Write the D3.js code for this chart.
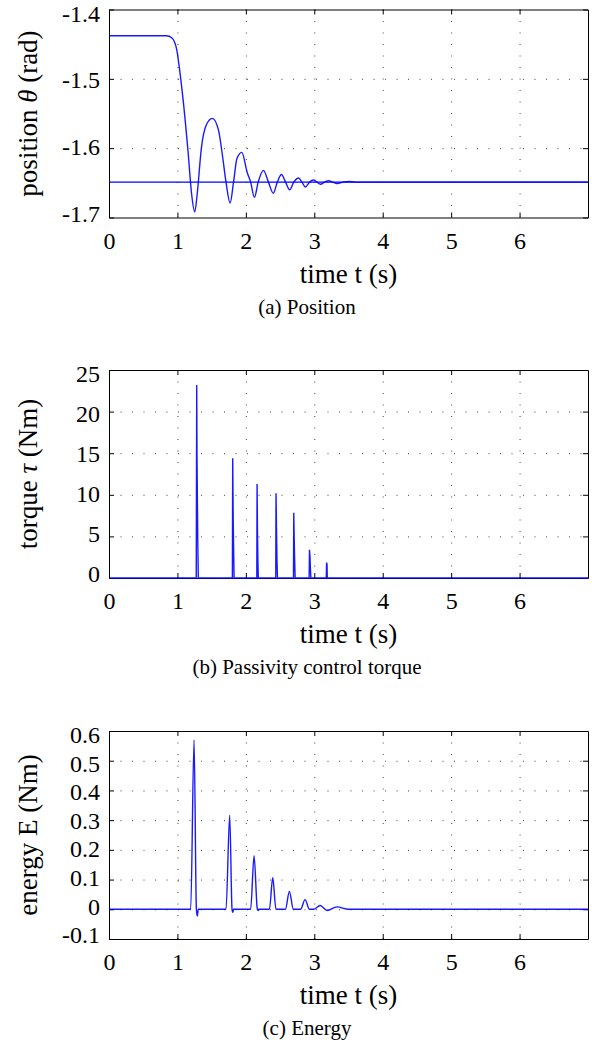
<!DOCTYPE html>
<html>
<head>
<meta charset="utf-8">
<script src="https://cdn.jsdelivr.net/npm/d3@7"></script>
<style>
  body { margin: 0; background: #fff; }
</style>
</head>
<body>
<div id="chart"></div>
<script>
// time axis
const timeTicks = [0, 1, 2, 3, 4, 5, 6];

// (a) position theta (rad)
const posTicks = [-1.7, -1.6, -1.5, -1.4];
const posT = [0, 0.84, 0.92, 0.99, 1.02, 1.084, 1.157, 1.206, 1.253, 1.29, 1.35, 1.42, 1.51, 1.60, 1.66, 1.71, 1.77, 1.82, 1.87, 1.94, 2.02, 2.07, 2.125, 2.18, 2.256, 2.33, 2.40, 2.46, 2.52, 2.58, 2.64, 2.70, 2.77, 2.82, 2.87, 2.93, 2.99, 3.04, 3.09, 3.15, 3.21, 3.27, 3.33, 3.42, 3.50, 3.60, 7];
const posVal = [-1.4378, -1.4378, -1.441, -1.458, -1.478, -1.531, -1.607, -1.665, -1.692, -1.665, -1.600, -1.567, -1.557, -1.574, -1.612, -1.649, -1.679, -1.649, -1.615, -1.606, -1.635, -1.649, -1.671, -1.649, -1.632, -1.649, -1.665, -1.649, -1.638, -1.649, -1.660, -1.649, -1.643, -1.649, -1.656, -1.649, -1.646, -1.649, -1.652, -1.649, -1.647, -1.649, -1.651, -1.649, -1.648, -1.649, -1.649];
const posRef = -1.649;

// (b) passivity control torque (Nm)
const torqueTicks = [0, 5, 10, 15, 20, 25];
const torqueT = [0,
  1.275, 1.282, 1.286, 1.292, 1.298, 1.305,
  1.803, 1.808, 1.815, 1.822, 1.828,
  2.160, 2.164, 2.170, 2.176, 2.182,
  2.437, 2.441, 2.447, 2.455, 2.462,
  2.696, 2.700, 2.706, 2.712, 2.720,
  2.925, 2.930, 2.937, 2.942, 2.950,
  3.175, 3.180, 3.186, 3.190,
  7];
const torqueVal = [0,
  0, 23.2, 14.7, 9, 4, 0,
  0, 14.4, 7.0, 3, 0,
  0, 11.3, 5.5, 2, 0,
  0, 10.2, 6.4, 2, 0,
  0, 7.85, 5, 2.5, 0,
  0, 3.4, 2.6, 1.4, 0,
  0, 1.85, 1.6, 0,
  0];

// (c) energy (Nm)
const energyTicks = [-0.1, 0, 0.1, 0.2, 0.3, 0.4, 0.5, 0.6];
const energyT = [0, 1.194, 1.243, 1.277, 1.29, 1.305, 1.71, 1.764, 1.798, 1.81, 1.82, 2.07, 2.12, 2.168, 2.18, 2.19, 2.344, 2.393, 2.44, 2.578, 2.636, 2.694, 2.80, 2.865, 2.93, 2.99, 3.085, 3.19, 3.33, 3.50, 7];
const energyVal = [0, 0, 0.570, 0, -0.023, 0, 0, 0.317, 0, -0.01, 0, 0, 0.18, 0, -0.004, 0, 0, 0.106, 0, 0, 0.060, 0, 0, 0.0325, 0, 0, 0.0125, -0.004, 0.008, 0, 0];

const W = 600, H = 1044;
const left = 109, right = 588, ph = 208;
const font = "Liberation Serif, Times New Roman, Times, DejaVu Serif, serif";

const svg = d3.select("#chart").append("svg")
  .attr("width", W)
  .attr("height", H)
  .style("background", "#fff");

const x = d3.scaleLinear().domain([0, 7]).range([left, right]);

const panels = [
  { t: posT, v: posVal, ticks: posTicks, domain: [-1.7, -1.4], top: 9.5,
    label: ["position ", "\u03b8", " (rad)"], caption: "(a) Position", curve: d3.curveMonotoneX, ref: posRef },
  { t: torqueT, v: torqueVal, ticks: torqueTicks, domain: [0, 25], top: 370,
    label: ["torque ", "\u03c4", " (Nm)"], caption: "(b) Passivity control torque", curve: d3.curveLinear },
  { t: energyT, v: energyVal, ticks: energyTicks, domain: [-0.1, 0.6], top: 731,
    label: ["energy E (Nm)"], caption: "(c) Energy", curve: d3.curveMonotoneX }
];

function styleAxis(g) {
  g.attr("font-family", null).attr("font-size", null);
  g.selectAll("path.domain").attr("stroke", "#000").attr("stroke-width", 1);
  g.selectAll(".tick line").attr("stroke", "#000");
  g.selectAll("text").attr("fill", "#000")
    .style("font-family", font).style("font-size", "24px");
}

panels.forEach(p => {
  const bottom = p.top + ph;
  const mid = (p.top + bottom) / 2;
  const y = d3.scaleLinear().domain(p.domain).range([bottom, p.top]);
  const g = svg.append("g");

  // dotted grid
  g.append("g")
    .attr("transform", `translate(0,${bottom})`)
    .call(d3.axisBottom(x).tickValues(timeTicks.slice(1)).tickSize(-ph).tickFormat(""))
    .call(a => a.select(".domain").remove())
    .selectAll("line").attr("stroke", "#444").attr("stroke-dasharray", "1,10.5");
  g.append("g")
    .attr("transform", `translate(${left},0)`)
    .call(d3.axisLeft(y).tickValues(p.ticks.slice(1, -1)).tickSize(-(right - left)).tickFormat(""))
    .call(a => a.select(".domain").remove())
    .selectAll("line").attr("stroke", "#444").attr("stroke-dasharray", "1,10.5");

  // axes (box with inward ticks)
  g.append("g").attr("transform", `translate(0,${bottom})`)
    .call(d3.axisBottom(x).tickValues(timeTicks).tickSizeInner(-5).tickSizeOuter(0).tickPadding(14).tickFormat(d => String(d)))
    .call(styleAxis);
  g.append("g").attr("transform", `translate(0,${p.top})`)
    .call(d3.axisTop(x).tickValues(timeTicks).tickSizeInner(-5).tickSizeOuter(0).tickFormat(""))
    .call(styleAxis);
  g.append("g").attr("transform", `translate(${left},0)`)
    .call(d3.axisLeft(y).tickValues(p.ticks).tickSizeInner(-5).tickSizeOuter(0).tickPadding(9).tickFormat(d => String(d)))
    .call(styleAxis)
    // labels sit slightly toward the middle of the axis
    .selectAll(".tick text")
    .attr("y", d => (mid - y(d)) * 0.04);
  g.append("g").attr("transform", `translate(${right},0)`)
    .call(d3.axisRight(y).tickValues(p.ticks).tickSizeInner(-5).tickSizeOuter(0).tickFormat(""))
    .call(styleAxis);

  // data on top of the axes
  const line = d3.line().x((d, i) => x(p.t[i])).y(d => y(d)).curve(p.curve);
  if (p.ref !== undefined) {
    g.append("path")
      .attr("d", d3.line()([[x(0), y(p.ref)], [x(7), y(p.ref)]]))
      .attr("fill", "none").attr("stroke", "#0000ff").attr("stroke-width", 1.3);
  }
  g.append("path")
    .datum(p.v)
    .attr("d", line)
    .attr("fill", "none")
    .attr("stroke", "#0000ff")
    .attr("stroke-opacity", 0.9)
    .attr("stroke-width", 1.4);

  // y label
  const yl = g.append("text")
    .attr("transform", `translate(28,${mid}) rotate(-90)`)
    .attr("text-anchor", "middle")
    .attr("dominant-baseline", "central")
    .style("font-family", font)
    .style("font-size", "27px");
  p.label.forEach((s, i) => {
    yl.append("tspan").text(s).attr("font-style", i === 1 ? "italic" : "normal");
  });

  // x label and caption
  g.append("text")
    .attr("x", (left + right) / 2).attr("y", bottom + 65)
    .attr("text-anchor", "middle")
    .style("font-family", font).style("font-size", "27px")
    .text("time t (s)");
  g.append("text")
    .attr("x", 307).attr("y", bottom + 96)
    .attr("text-anchor", "middle")
    .style("font-family", font).style("font-size", "21px")
    .text(p.caption);
});
</script>
</body>
</html>
